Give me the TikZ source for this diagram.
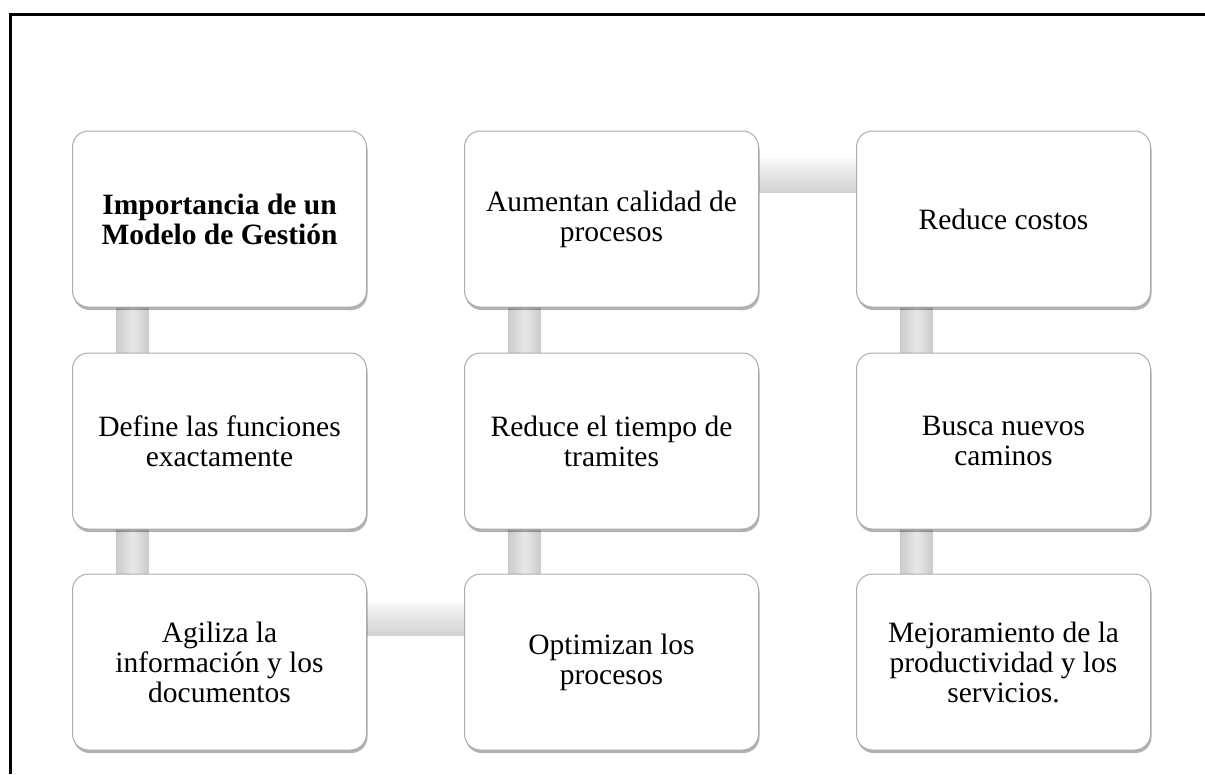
\documentclass[tikz,border=0pt]{standalone}
\usepackage{fontspec}
\setmainfont{Liberation Serif}
\usetikzlibrary{calc,shadows,backgrounds}

\begin{document}
\begin{tikzpicture}[inner sep=0pt,outer sep=0pt,
    box/.style={draw=gray!65, line width=1pt, fill=white, rounded corners=16pt,
      minimum width=294pt, minimum height=176pt, align=center,
      font=\fontsize{29.5}{30}\selectfont,
      drop shadow={shadow xshift=1pt, shadow yshift=-3pt, fill=black, opacity=0.3}},
    boldbox/.style={box, font=\fontsize{29.5}{30}\selectfont\bfseries},
    vbar/.style={left color=gray!40, right color=gray!40, middle color=gray!18},
    hbar/.style={top color=gray!6, bottom color=gray!35}]
    \useasboundingbox (0,0) rectangle (1205pt,-774pt);
    % frame
    \draw[line width=3pt] (1205pt,-14pt) -- (10.5pt,-14pt) -- (10.5pt,-774pt);

    % first column
    \node[boldbox, anchor=north west] (imp) at (72.5pt, -131pt)
    {Importancia de un\\Modelo de Gestión};
    \node[box, anchor=north] (def) at ($(imp.south) + (0pt, -46pt)$)
    {Define las funciones\\exactamente};
    \node[box, anchor=north] (agi) at ($(def.south) + (0pt, -45pt)$)
    {Agiliza la\\información y los\\documentos};

    % second column
    \node[box, anchor=north west] (aum) at ($(imp.north east) + (98pt, 0pt)$)
    {Aumentan calidad de\\procesos};
    \node[box, anchor=north] (red) at ($(aum.south) + (0pt, -46pt)$)
    {Reduce el tiempo de\\tramites};
    \node[box, anchor=north] (opt) at ($(red.south) + (0pt, -45pt)$)
    {Optimizan los\\procesos};

    % third column
    \node[box, anchor=north west] (cos) at ($(aum.north east) + (98pt, 0pt)$)
    {Reduce costos};
    \node[box, anchor=north] (bus) at ($(cos.south) + (0pt, -46pt)$)
    {Busca nuevos\\caminos};
    \node[box, anchor=north] (mej) at ($(bus.south) + (0pt, -45pt)$)
    {Mejoramiento de la\\productividad y los\\servicios.};

    % links
    \begin{pgfonlayer}{background}
    \path[vbar] ($(imp.south west) + (44pt, 2pt)$) rectangle ($(def.north west) + (76pt, -2pt)$);
    \path[vbar] ($(def.south west) + (44pt, 2pt)$) rectangle ($(agi.north west) + (76pt, -2pt)$);
    \path[hbar] ($(agi.north east) + (-2pt, -29pt)$) rectangle ($(opt.north west) + (2pt, -61pt)$);
    \path[vbar] ($(red.south west) + (44pt, 2pt)$) rectangle ($(opt.north west) + (76pt, -2pt)$);
    \path[vbar] ($(aum.south west) + (44pt, 2pt)$) rectangle ($(red.north west) + (76pt, -2pt)$);
    \path[hbar] ($(aum.north east) + (-2pt, -28pt)$) rectangle ($(cos.north west) + (2pt, -61pt)$);
    \path[vbar] ($(cos.south west) + (44pt, 2pt)$) rectangle ($(bus.north west) + (76pt, -2pt)$);
    \path[vbar] ($(bus.south west) + (44pt, 2pt)$) rectangle ($(mej.north west) + (76pt, -2pt)$);
    \end{pgfonlayer}
\end{tikzpicture}
\end{document}
